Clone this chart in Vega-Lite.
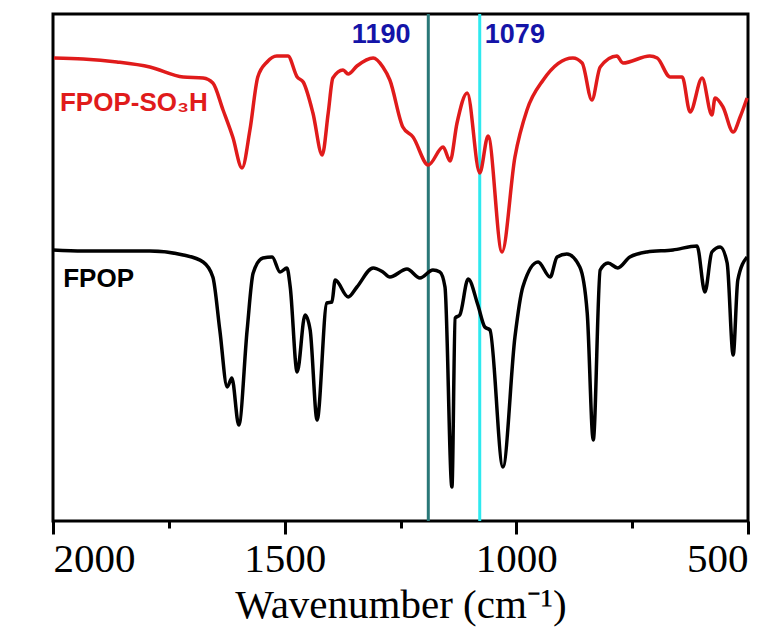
{
  "$schema": "https://vega.github.io/schema/vega-lite/v6.json",
  "width": 695,
  "height": 507,
  "autosize": {"type": "none"},
  "padding": {"left": 53, "top": 14, "right": 36, "bottom": 107},
  "config": {
    "view": {"stroke": "black", "strokeWidth": 3}
  },
  "data": {"values": [
      {"k": "line", "wn": 1998, "v": 463, "s": "FPOP-SO3H"}, {"k": "line", "wn": 1935, "v": 462, "s": "FPOP-SO3H"}, {"k": "line", "wn": 1862, "v": 459, "s": "FPOP-SO3H"},
      {"k": "line", "wn": 1791, "v": 454, "s": "FPOP-SO3H"}, {"k": "line", "wn": 1719, "v": 444, "s": "FPOP-SO3H"}, {"k": "line", "wn": 1676, "v": 443, "s": "FPOP-SO3H"},
      {"k": "line", "wn": 1655, "v": 438, "s": "FPOP-SO3H"}, {"k": "line", "wn": 1633, "v": 411, "s": "FPOP-SO3H"}, {"k": "line", "wn": 1612, "v": 384, "s": "FPOP-SO3H"},
      {"k": "line", "wn": 1592, "v": 353, "s": "FPOP-SO3H"}, {"k": "line", "wn": 1575, "v": 391, "s": "FPOP-SO3H"}, {"k": "line", "wn": 1558, "v": 444, "s": "FPOP-SO3H"},
      {"k": "line", "wn": 1538, "v": 459, "s": "FPOP-SO3H"}, {"k": "line", "wn": 1517, "v": 465, "s": "FPOP-SO3H"}, {"k": "line", "wn": 1493, "v": 465, "s": "FPOP-SO3H"},
      {"k": "line", "wn": 1473, "v": 444, "s": "FPOP-SO3H"}, {"k": "line", "wn": 1460, "v": 439, "s": "FPOP-SO3H"}, {"k": "line", "wn": 1439, "v": 408, "s": "FPOP-SO3H"},
      {"k": "line", "wn": 1419, "v": 366, "s": "FPOP-SO3H"}, {"k": "line", "wn": 1406, "v": 408, "s": "FPOP-SO3H"}, {"k": "line", "wn": 1396, "v": 443, "s": "FPOP-SO3H"},
      {"k": "line", "wn": 1374, "v": 451, "s": "FPOP-SO3H"}, {"k": "line", "wn": 1363, "v": 447, "s": "FPOP-SO3H"}, {"k": "line", "wn": 1344, "v": 455, "s": "FPOP-SO3H"},
      {"k": "line", "wn": 1309, "v": 463, "s": "FPOP-SO3H"}, {"k": "line", "wn": 1288, "v": 454, "s": "FPOP-SO3H"}, {"k": "line", "wn": 1273, "v": 441, "s": "FPOP-SO3H"},
      {"k": "line", "wn": 1245, "v": 394, "s": "FPOP-SO3H"}, {"k": "line", "wn": 1223, "v": 384, "s": "FPOP-SO3H"}, {"k": "line", "wn": 1190, "v": 356, "s": "FPOP-SO3H"},
      {"k": "line", "wn": 1158, "v": 374, "s": "FPOP-SO3H"}, {"k": "line", "wn": 1143, "v": 360, "s": "FPOP-SO3H"}, {"k": "line", "wn": 1128, "v": 398, "s": "FPOP-SO3H"},
      {"k": "line", "wn": 1106, "v": 428, "s": "FPOP-SO3H"}, {"k": "line", "wn": 1079, "v": 348, "s": "FPOP-SO3H"}, {"k": "line", "wn": 1061, "v": 385, "s": "FPOP-SO3H"},
      {"k": "line", "wn": 1031, "v": 269, "s": "FPOP-SO3H"}, {"k": "line", "wn": 1003, "v": 364, "s": "FPOP-SO3H"}, {"k": "line", "wn": 977, "v": 411, "s": "FPOP-SO3H"},
      {"k": "line", "wn": 942, "v": 441, "s": "FPOP-SO3H"}, {"k": "line", "wn": 878, "v": 463, "s": "FPOP-SO3H"}, {"k": "line", "wn": 858, "v": 458, "s": "FPOP-SO3H"},
      {"k": "line", "wn": 837, "v": 421, "s": "FPOP-SO3H"}, {"k": "line", "wn": 819, "v": 454, "s": "FPOP-SO3H"}, {"k": "line", "wn": 783, "v": 465, "s": "FPOP-SO3H"},
      {"k": "line", "wn": 770, "v": 458, "s": "FPOP-SO3H"}, {"k": "line", "wn": 712, "v": 465, "s": "FPOP-SO3H"}, {"k": "line", "wn": 696, "v": 463, "s": "FPOP-SO3H"},
      {"k": "line", "wn": 668, "v": 444, "s": "FPOP-SO3H"}, {"k": "line", "wn": 642, "v": 444, "s": "FPOP-SO3H"}, {"k": "line", "wn": 625, "v": 409, "s": "FPOP-SO3H"},
      {"k": "line", "wn": 599, "v": 443, "s": "FPOP-SO3H"}, {"k": "line", "wn": 578, "v": 406, "s": "FPOP-SO3H"}, {"k": "line", "wn": 571, "v": 423, "s": "FPOP-SO3H"},
      {"k": "line", "wn": 554, "v": 414, "s": "FPOP-SO3H"}, {"k": "line", "wn": 532, "v": 389, "s": "FPOP-SO3H"}, {"k": "line", "wn": 517, "v": 404, "s": "FPOP-SO3H"},
      {"k": "line", "wn": 502, "v": 423, "s": "FPOP-SO3H"},
      {"k": "line", "wn": 2000, "v": 271, "s": "FPOP"}, {"k": "line", "wn": 1935, "v": 270, "s": "FPOP"}, {"k": "line", "wn": 1791, "v": 270, "s": "FPOP"},
      {"k": "line", "wn": 1719, "v": 266, "s": "FPOP"}, {"k": "line", "wn": 1676, "v": 259, "s": "FPOP"}, {"k": "line", "wn": 1655, "v": 244, "s": "FPOP"},
      {"k": "line", "wn": 1640, "v": 191, "s": "FPOP"}, {"k": "line", "wn": 1624, "v": 134, "s": "FPOP"}, {"k": "line", "wn": 1614, "v": 143, "s": "FPOP"},
      {"k": "line", "wn": 1599, "v": 96, "s": "FPOP"}, {"k": "line", "wn": 1581, "v": 191, "s": "FPOP"}, {"k": "line", "wn": 1568, "v": 248, "s": "FPOP"},
      {"k": "line", "wn": 1547, "v": 263, "s": "FPOP"}, {"k": "line", "wn": 1527, "v": 264, "s": "FPOP"}, {"k": "line", "wn": 1510, "v": 249, "s": "FPOP"},
      {"k": "line", "wn": 1495, "v": 253, "s": "FPOP"}, {"k": "line", "wn": 1488, "v": 234, "s": "FPOP"}, {"k": "line", "wn": 1473, "v": 149, "s": "FPOP"},
      {"k": "line", "wn": 1456, "v": 206, "s": "FPOP"}, {"k": "line", "wn": 1445, "v": 191, "s": "FPOP"}, {"k": "line", "wn": 1430, "v": 101, "s": "FPOP"},
      {"k": "line", "wn": 1409, "v": 218, "s": "FPOP"}, {"k": "line", "wn": 1398, "v": 219, "s": "FPOP"}, {"k": "line", "wn": 1391, "v": 241, "s": "FPOP"},
      {"k": "line", "wn": 1363, "v": 224, "s": "FPOP"}, {"k": "line", "wn": 1344, "v": 234, "s": "FPOP"}, {"k": "line", "wn": 1309, "v": 253, "s": "FPOP"},
      {"k": "line", "wn": 1288, "v": 249, "s": "FPOP"}, {"k": "line", "wn": 1273, "v": 244, "s": "FPOP"}, {"k": "line", "wn": 1236, "v": 252, "s": "FPOP"},
      {"k": "line", "wn": 1208, "v": 243, "s": "FPOP"}, {"k": "line", "wn": 1180, "v": 251, "s": "FPOP"}, {"k": "line", "wn": 1165, "v": 249, "s": "FPOP"},
      {"k": "line", "wn": 1154, "v": 234, "s": "FPOP"}, {"k": "line", "wn": 1139, "v": 34, "s": "FPOP"}, {"k": "line", "wn": 1132, "v": 203, "s": "FPOP"},
      {"k": "line", "wn": 1122, "v": 206, "s": "FPOP"}, {"k": "line", "wn": 1104, "v": 242, "s": "FPOP"}, {"k": "line", "wn": 1083, "v": 216, "s": "FPOP"},
      {"k": "line", "wn": 1068, "v": 194, "s": "FPOP"}, {"k": "line", "wn": 1057, "v": 191, "s": "FPOP"}, {"k": "line", "wn": 1029, "v": 54, "s": "FPOP"},
      {"k": "line", "wn": 1003, "v": 184, "s": "FPOP"}, {"k": "line", "wn": 986, "v": 234, "s": "FPOP"}, {"k": "line", "wn": 953, "v": 259, "s": "FPOP"},
      {"k": "line", "wn": 927, "v": 244, "s": "FPOP"}, {"k": "line", "wn": 912, "v": 264, "s": "FPOP"}, {"k": "line", "wn": 891, "v": 267, "s": "FPOP"},
      {"k": "line", "wn": 863, "v": 254, "s": "FPOP"}, {"k": "line", "wn": 847, "v": 208, "s": "FPOP"}, {"k": "line", "wn": 834, "v": 81, "s": "FPOP"},
      {"k": "line", "wn": 819, "v": 251, "s": "FPOP"}, {"k": "line", "wn": 802, "v": 258, "s": "FPOP"}, {"k": "line", "wn": 781, "v": 253, "s": "FPOP"},
      {"k": "line", "wn": 755, "v": 264, "s": "FPOP"}, {"k": "line", "wn": 718, "v": 269, "s": "FPOP"}, {"k": "line", "wn": 662, "v": 271, "s": "FPOP"},
      {"k": "line", "wn": 610, "v": 275, "s": "FPOP"}, {"k": "line", "wn": 593, "v": 229, "s": "FPOP"}, {"k": "line", "wn": 578, "v": 269, "s": "FPOP"},
      {"k": "line", "wn": 560, "v": 274, "s": "FPOP"}, {"k": "line", "wn": 545, "v": 258, "s": "FPOP"}, {"k": "line", "wn": 532, "v": 166, "s": "FPOP"},
      {"k": "line", "wn": 522, "v": 241, "s": "FPOP"}, {"k": "line", "wn": 502, "v": 264, "s": "FPOP"},
      {"k": "ref", "wn": 1190, "v": 0, "s": "r1190"},
      {"k": "ref", "wn": 1079, "v": 0, "s": "r1079"},
      {"k": "label", "wn": 1985, "v": 418, "s": "FPOP-SO3H", "label": "FPOP-SO₃H"},
      {"k": "label", "wn": 1978, "v": 242, "s": "FPOP", "label": "FPOP"},
      {"k": "num", "wn": 1355, "v": 486, "s": "num", "label": "1190"},
      {"k": "num", "wn": 1068, "v": 486, "s": "num", "label": "1079"}
  ]},
  "layer": [
    {
      "transform": [{"filter": "datum.k === 'ref'"}],
      "mark": {"type": "rule", "strokeWidth": 3},
      "encoding": {
        "x": {
          "field": "wn", "type": "quantitative",
          "scale": {"domain": [500, 2000], "reverse": true, "nice": false, "zero": false},
          "axis": {
            "values": [2000, 1750, 1500, 1250, 1000, 750, 500],
            "format": "d",
            "labelExpr": "datum.value % 500 === 0 ? datum.label : ''",
            "title": "Wavenumber (cm⁻¹)",
            "grid": false,
            "domain": false,
            "tickSize": {"condition": {"test": "datum.value % 500 === 0", "value": 13}, "value": 7},
            "tickWidth": 3, "tickColor": "black",
            "labelFont": "Liberation Serif", "labelFontSize": 41, "labelColor": "black",
            "labelPadding": 5,
            "titleFont": "Liberation Serif", "titleFontSize": 41, "titleFontWeight": "normal", "titleColor": "black",
            "titlePadding": 6
          }
        },
        "color": {
          "field": "s", "type": "nominal",
          "scale": {"domain": ["FPOP-SO3H", "FPOP", "num", "r1190", "r1079"], "range": ["#e01b1b", "#000000", "#1414a8", "#2a7878", "#2ee9ef"]},
          "legend": null
        }
      }
    },
    {
      "transform": [{"filter": "datum.k === 'line'"}],
      "mark": {"type": "line", "strokeWidth": 3.5, "interpolate": "monotone"},
      "encoding": {
        "x": {"field": "wn", "type": "quantitative"},
        "y": {"field": "v", "type": "quantitative", "scale": {"domain": [0, 507], "nice": false, "zero": false}, "axis": null},
        "color": {"field": "s", "type": "nominal"}
      }
    },
    {
      "transform": [{"filter": "datum.k === 'label'"}],
      "mark": {"type": "text", "align": "left", "baseline": "middle", "fontSize": 26, "fontWeight": "bold", "font": "Liberation Sans"},
      "encoding": {
        "x": {"field": "wn", "type": "quantitative"},
        "y": {"field": "v", "type": "quantitative"},
        "text": {"field": "label", "type": "nominal"},
        "color": {"field": "s", "type": "nominal"}
      }
    },
    {
      "transform": [{"filter": "datum.k === 'num'"}],
      "mark": {"type": "text", "align": "left", "baseline": "middle", "fontSize": 27, "fontWeight": "bold", "font": "Liberation Sans"},
      "encoding": {
        "x": {"field": "wn", "type": "quantitative"},
        "y": {"field": "v", "type": "quantitative"},
        "text": {"field": "label", "type": "nominal"},
        "color": {"field": "s", "type": "nominal"}
      }
    }
  ]
}
